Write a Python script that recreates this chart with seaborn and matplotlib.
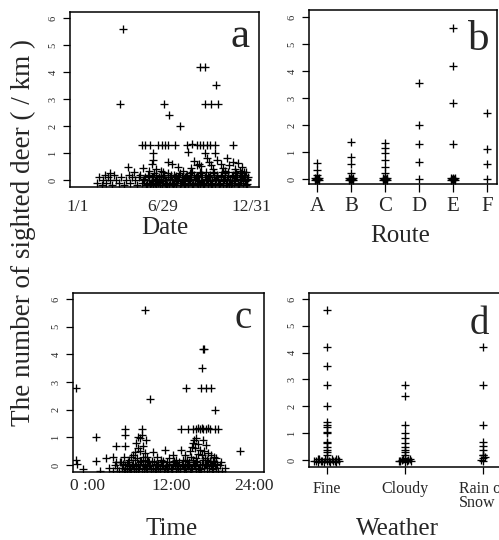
import matplotlib
matplotlib.use("Agg")
import matplotlib.pyplot as plt
import seaborn as sns
import pandas as pd

sns.set_theme(style="white")
plt.rcParams['font.family'] = ['Liberation Serif', 'DejaVu Serif']

# ---------------- data ----------------
# panel a: day of year vs deer/km
a_high = [(97, 5.6), (91, 2.8), (182, 2.8), (193, 2.4), (216, 2.0), (257, 4.2), (267, 4.2),
          (290, 3.5), (268, 2.8), (280, 2.8), (295, 2.8)]
a_row = [(136, 1.3), (143, 1.3), (153, 1.3), (170, 1.3), (178, 1.3), (184, 1.3), (191, 1.3),
         (205, 1.3), (230, 1.3), (240, 1.35), (250, 1.3), (257, 1.3), (263, 1.3), (272, 1.3),
         (278, 1.3), (288, 1.3), (326, 1.3)]
a_mid = [(159, 1.0), (159, 0.74), (157, 0.6), (190, 0.67), (199, 0.6), (211, 0.48), (232, 1.04),
         (267, 1.0), (271, 0.81), (288, 1.0), (292, 0.74), (313, 0.81), (326, 0.67), (336, 0.63),
         (344, 0.48), (107, 0.48), (138, 0.44), (70, 0.26), (175, 0.35), (180, 0.3), (245, 0.7),
         (250, 0.55), (255, 0.6), (260, 0.5), (275, 0.65), (280, 0.55), (300, 0.6), (305, 0.45),
         (318, 0.55), (330, 0.4), (340, 0.35), (349, 0.3), (353, 0.3), (120, 0.3), (150, 0.35),
         (166, 0.4), (222, 0.35), (238, 0.45), (284, 0.4), (310, 0.35)]
a_band = [(43, -0.1), (47, 0.1), (52, -0.2), (55, 0.0), (58, 0.2), (62, -0.1), (66, 0.1), (70, 0.0),
          (74, -0.2), (78, 0.2), (82, 0.0), (88, -0.1), (93, 0.1), (99, -0.2), (103, 0.0), (108, 0.2),
          (112, -0.1), (116, 0.1), (121, 0.0), (125, -0.2), (129, 0.1), (132, 0.2), (136, -0.1),
          (139, 0.0), (142, 0.1), (145, -0.2), (148, 0.2), (151, 0.0), (154, -0.1), (157, 0.1),
          (160, -0.2), (163, 0.0), (166, 0.2), (169, -0.1), (172, 0.1), (175, 0.0), (178, -0.2),
          (181, 0.2), (184, -0.1), (187, 0.0), (190, 0.1), (193, -0.2), (196, 0.2), (199, 0.0),
          (202, -0.1), (205, 0.1), (208, -0.2), (211, 0.0), (214, 0.2), (217, -0.1), (220, 0.1),
          (223, 0.0), (226, -0.2), (229, 0.2), (232, -0.1), (235, 0.0), (238, 0.1), (241, -0.2),
          (244, 0.2), (247, 0.0), (250, -0.1), (253, 0.1), (256, -0.2), (259, 0.0), (262, 0.2),
          (265, -0.1), (268, 0.1), (271, 0.0), (274, -0.2), (277, 0.2), (280, -0.1), (283, 0.0),
          (286, 0.1), (289, -0.2), (292, 0.2), (295, 0.0), (298, -0.1), (301, 0.1), (304, -0.2),
          (307, 0.0), (310, 0.2), (313, -0.1), (316, 0.1), (319, 0.0), (322, -0.2), (325, 0.2),
          (328, -0.1), (331, 0.0), (334, 0.1), (337, -0.2), (340, 0.2), (343, 0.0), (346, -0.1),
          (349, 0.1), (352, -0.2), (355, 0.0), (357, 0.1),
          (141, 0.05), (146, -0.15), (150, 0.15), (156, -0.05), (161, 0.25), (165, -0.15),
          (171, 0.05), (176, 0.15), (180, -0.05), (186, -0.15), (191, 0.25), (195, 0.05),
          (201, -0.15), (206, 0.15), (210, -0.05), (215, 0.25), (219, 0.05), (224, -0.15),
          (228, 0.15), (233, -0.05), (237, 0.25), (242, -0.15), (246, 0.05), (251, 0.15),
          (255, -0.05), (260, 0.25), (264, -0.15), (269, 0.05), (273, 0.15), (278, -0.05),
          (282, -0.15), (287, 0.25), (291, 0.05), (296, -0.15), (300, 0.15), (305, -0.05),
          (309, 0.25), (314, 0.05), (318, -0.15), (323, 0.15), (327, -0.05), (332, 0.25),
          (336, -0.15), (341, 0.05), (345, 0.15), (350, -0.05), (354, 0.05),
          (152, -0.2), (158, 0.1), (164, -0.1), (168, 0.05), (174, -0.2), (179, 0.1), (183, 0.0),
          (189, -0.2), (194, 0.1), (198, -0.1), (203, 0.2), (207, -0.05), (212, 0.1), (216, -0.2),
          (221, 0.0), (225, 0.1), (231, -0.2), (236, 0.05), (240, 0.3), (243, -0.1), (248, 0.1),
          (252, -0.2), (257, 0.3), (261, 0.0), (266, -0.2), (270, 0.3), (275, 0.1), (279, -0.2),
          (285, 0.3), (288, 0.0), (293, 0.1), (297, -0.2), (302, 0.3), (306, 0.05), (311, -0.2),
          (315, 0.3), (320, 0.0), (324, -0.1), (329, 0.3), (333, 0.1), (338, -0.2), (342, 0.25),
          (347, 0.0), (351, 0.2), (356, -0.15)]
a_ticks = [1, 180, 365]
a_ticklabels = ["1/1", "6/29", "12/31"]

# panel b: route vs deer/km
routes = ["A", "B", "C", "D", "E", "F"]
b_route = ["A", "A", "A", "B", "B", "B", "B", "C", "C", "C", "C", "C", "C",
           "D", "D", "D", "D", "D", "E", "E", "E", "E", "F", "F", "F", "F"]
b_val = [0.59, 0.33, 0.15, 1.37, 0.81, 0.55, 0.22, 1.33, 1.15, 0.96, 0.7, 0.44, 0.22,
         3.55, 2.0, 1.3, 0.63, 0.0, 5.6, 4.2, 2.8, 1.3, 2.44, 1.1, 0.55, 0.0]
b_zero_routes = ["A", "B", "C", "E"]
b_zero_jitter = [(-0.05, -0.05), (0.0, -0.05), (0.05, -0.05), (-0.05, 0.05), (0.0, 0.05),
                 (0.05, 0.05), (-0.03, 0.0), (0.03, 0.0)]

# panel c: time of day (hours) vs deer/km
c_high = [(8.3, 5.6), (16.7, 4.2), (16.8, 4.2), (16.5, 3.5), (-1.7, 2.8), (14.2, 2.8), (16.4, 2.8),
          (17.1, 2.8), (17.8, 2.8), (9.0, 2.4), (18.4, 2.0)]
c_row = [(5.4, 1.3), (7.8, 1.3), (13.5, 1.3), (14.5, 1.3), (15.2, 1.3), (15.7, 1.3), (16.0, 1.35),
         (16.2, 1.3), (16.5, 1.35), (16.7, 1.3), (17.1, 1.3), (17.4, 1.35), (17.7, 1.3), (18.4, 1.3),
         (18.8, 1.3)]
c_mid = [(5.4, 1.1), (7.8, 1.1), (1.2, 1.0), (4.1, 0.7), (5.4, 0.7), (22.0, 0.5), (7.5, 0.98),
         (6.8, 0.47), (9.4, 0.47), (11.2, 0.54), (12.3, 0.36), (13.5, 0.54), (15.2, 0.8), (15.7, 0.98),
         (17.1, 0.72), (18.6, 0.25), (19.3, 0.11), (2.6, 0.25), (3.6, 0.29), (4.1, 0.11), (1.2, 0.15),
         (-1.7, 0.2), (-1.6, 0.05), (-0.7, -0.15), (1.7, -0.2), (3.0, -0.1), (7.0, 0.8), (7.3, 0.6),
         (8.0, 0.7), (7.6, 0.5), (8.2, 0.45), (6.5, 0.35), (8.6, 0.3), (10.0, 0.3), (10.6, 0.2),
         (11.8, 0.25), (12.8, 0.2), (14.0, 0.35), (14.8, 0.5), (15.0, 0.65), (15.5, 0.6), (16.0, 0.75),
         (16.3, 0.55), (16.8, 0.5), (17.4, 0.45), (17.8, 0.35), (18.2, 0.3), (14.3, 0.2), (15.9, 0.4),
         (16.6, 0.9), (6.0, 0.2), (5.2, 0.3), (4.6, 0.1), (7.2, 1.0), (8.4, 0.9), (15.4, 0.9)]
c_band = [(3.6, -0.2), (3.9, 0.0), (4.2, -0.1), (4.5, -0.2), (4.8, 0.1), (5.0, -0.1), (5.2, -0.2),
          (5.4, 0.0), (5.6, -0.2), (5.8, 0.1), (6.0, -0.1), (6.2, -0.2), (6.4, 0.0), (6.6, -0.1),
          (6.8, 0.2), (7.0, -0.2), (7.2, 0.0), (7.4, -0.1), (7.6, 0.1), (7.8, -0.2), (8.0, 0.0),
          (8.2, 0.2), (8.4, -0.1), (8.6, -0.2), (8.8, 0.1), (9.0, 0.0), (9.2, -0.2), (9.4, -0.1),
          (9.6, 0.1), (9.8, -0.2), (10.0, 0.0), (10.2, -0.1), (10.4, -0.2), (10.6, 0.1), (10.8, 0.0),
          (11.0, -0.2), (11.2, -0.1), (11.4, 0.1), (11.6, -0.2), (11.8, 0.0), (12.0, -0.1),
          (12.2, -0.2), (12.4, 0.1), (12.6, 0.0), (12.8, -0.2), (13.0, -0.1), (13.2, 0.1),
          (13.4, -0.2), (13.6, 0.0), (13.8, 0.2), (14.0, -0.1), (14.2, -0.2), (14.4, 0.0),
          (14.6, 0.1), (14.8, -0.2), (15.0, -0.1), (15.2, 0.2), (15.4, 0.0), (15.6, -0.2),
          (15.8, 0.1), (16.0, -0.1), (16.2, 0.0), (16.4, -0.2), (16.6, 0.2), (16.8, -0.1),
          (17.0, 0.0), (17.2, -0.2), (17.4, 0.1), (17.6, -0.1), (17.8, 0.0), (18.0, -0.2),
          (18.2, 0.1), (18.5, -0.1), (18.8, -0.2), (19.1, 0.0), (19.4, -0.2), (19.8, -0.1),
          (5.1, 0.05), (5.9, -0.05), (6.7, -0.15), (7.5, 0.05), (8.3, -0.05), (9.1, -0.15),
          (9.9, 0.05), (10.7, -0.05), (11.5, -0.15), (12.3, 0.05), (13.1, -0.05), (13.9, -0.15),
          (14.7, 0.05), (15.5, -0.05), (16.3, -0.15), (17.1, 0.05), (17.9, -0.05), (18.7, 0.05),
          (6.3, 0.3), (7.1, 0.25), (7.9, 0.3), (8.7, 0.15), (14.9, 0.3), (15.7, 0.25), (16.5, 0.35),
          (17.3, 0.2), (18.1, 0.15),
          (5.3, -0.15), (5.7, 0.05), (6.1, -0.15), (6.5, 0.05), (6.9, -0.05), (7.3, -0.15),
          (7.7, 0.15), (8.1, -0.15), (8.5, 0.05), (8.9, -0.05), (9.3, 0.15), (9.7, -0.15),
          (10.1, 0.05), (10.5, -0.15), (10.9, 0.15), (11.3, -0.05), (11.7, 0.05), (12.1, -0.15),
          (12.5, 0.15), (12.9, -0.05), (13.3, -0.15), (13.7, 0.05), (14.1, 0.15), (14.5, -0.05),
          (14.9, -0.15), (15.3, 0.05), (15.7, 0.15), (16.1, -0.15), (16.5, 0.05), (16.9, 0.25),
          (17.3, -0.05), (17.7, 0.15), (18.1, -0.15), (18.4, 0.05)]
c_ticks = [0, 12, 24]
c_ticklabels = ["0 :00", "12:00", "24:00"]

# panel d: weather vs deer/km
weathers = ["Fine", "Cloudy", "Rain or\nSnow"]
d_weather = ["Fine"] * 16 + ["Cloudy"] * 10 + ["Rain or\nSnow"] * 8
d_val = [5.6, 4.2, 3.5, 2.8, 2.0, 1.42, 1.3, 1.23, 1.04, 1.0, 0.67, 0.63, 0.49, 0.37, 0.3, 0.19,
         2.8, 2.4, 1.3, 1.0, 0.82, 0.63, 0.49, 0.37, 0.3, 0.19,
         4.2, 2.8, 1.3, 0.67, 0.52, 0.37, 0.19, 0.07]
d_zero_fine = [(-0.14, -0.05), (-0.1, 0.02), (-0.06, -0.05), (-0.02, 0.02), (0.02, -0.05),
               (0.06, 0.02), (0.1, -0.05), (0.14, 0.02), (-0.12, -0.08), (0.12, -0.08),
               (-0.04, -0.08), (0.04, -0.08), (-0.16, -0.02), (-0.08, -0.02), (0.0, -0.02),
               (0.08, -0.02), (0.16, -0.02), (-0.12, 0.05), (0.0, 0.05), (0.12, 0.05)]
d_zero_cloudy = [(-0.06, -0.05), (-0.02, 0.02), (0.02, -0.05), (0.06, 0.02), (0.0, -0.08),
                 (0.0, 0.06), (-0.04, 0.0), (0.04, 0.0), (-0.08, -0.03), (0.08, -0.03)]
d_zero_rain = [(-0.02, 0.0), (0.02, 0.12), (0.0, -0.05), (0.0, 0.2)]

# ---------------- drawing ----------------
W, H = 499, 540
fig = plt.figure(figsize=(W / 100, H / 100), dpi=100)
fig.patch.set_facecolor("white")

mk = dict(marker="+", color="black", s=36, linewidth=0.95, legend=False)


def style(ax, ylim):
    ax.set_facecolor("white")
    for sp in ax.spines.values():
        sp.set_visible(True)
        sp.set_color("black")
        sp.set_linewidth(1.1)
    ax.set_ylim(*ylim)
    ax.set_yticks(range(7))
    ax.set_yticklabels([str(i) for i in range(7)], fontsize=7.5)
    for lab in ax.get_yticklabels():
        lab.set_rotation(90)
        lab.set_va("center")
    ax.tick_params(axis="y", left=True, length=5, width=0.9, pad=4, color="black")
    ax.set_xlabel("")
    ax.set_ylabel("")


def rect(l, t, r, b):
    return [l / W, 1 - b / H, (r - l) / W, (b - t) / H]


# panel a
ax_a = fig.add_axes(rect(70, 12, 259, 187))
pts_a = a_band + a_mid + a_row + a_high
df_a = pd.DataFrame(pts_a, columns=["day", "val"])
sns.scatterplot(data=df_a, x="day", y="val", ax=ax_a, **mk)
style(ax_a, (-0.26, 6.22))
ax_a.set_xlim(-14, 380)
ax_a.set_xticks(a_ticks)
ax_a.set_xticklabels(a_ticklabels, fontsize=12.5)
ax_a.tick_params(axis="x", bottom=True, length=0, pad=8.5)

# panel b
ax_b = fig.add_axes(rect(309, 10, 497, 184))
pos_b = {r: i for i, r in enumerate(routes)}
bx = [pos_b[r] for r in b_route]
by = list(b_val)
for r in b_zero_routes:
    for dx, dy in b_zero_jitter:
        bx.append(pos_b[r] + dx)
        by.append(dy)
df_b = pd.DataFrame({"x": bx, "val": by})
sns.scatterplot(data=df_b, x="x", y="val", ax=ax_b, **mk)
style(ax_b, (-0.185, 6.26))
ax_b.set_xlim(-0.24, 5.29)
ax_b.set_xticks(range(len(routes)))
ax_b.set_xticklabels(routes, fontsize=15)
ax_b.tick_params(axis="x", bottom=True, length=5.5, width=0.9, pad=4, color="black")

# panel c
ax_c = fig.add_axes(rect(73, 293, 264, 472))
pts_c = c_band + c_mid + c_row + c_high
df_c = pd.DataFrame(pts_c, columns=["hour", "val"])
sns.scatterplot(data=df_c, x="hour", y="val", ax=ax_c, **mk)
style(ax_c, (-0.25, 6.22))
ax_c.set_xlim(-2.17, 25.5)
ax_c.set_xticks(c_ticks)
ax_c.set_xticklabels(c_ticklabels, fontsize=12.5)
ax_c.tick_params(axis="x", bottom=True, length=0, pad=4)

# panel d
ax_d = fig.add_axes(rect(309, 293, 501, 467))
pos_d = {w: i for i, w in enumerate(weathers)}
dx_ = [pos_d[w] for w in d_weather]
dy_ = list(d_val)
for w, jit in zip(weathers, [d_zero_fine, d_zero_cloudy, d_zero_rain]):
    for ox, oy in jit:
        dx_.append(pos_d[w] + ox)
        dy_.append(oy)
df_d = pd.DataFrame({"x": dx_, "val": dy_})
sns.scatterplot(data=df_d, x="x", y="val", ax=ax_d, **mk)
style(ax_d, (-0.26, 6.22))
ax_d.set_xlim(-0.23, 2.23)
ax_d.set_xticks(range(len(weathers)))
ax_d.set_xticklabels(weathers, fontsize=11.5, linespacing=0.85)
for lab in ax_d.get_xticklabels():
    lab.set_multialignment("left")
    lab.set_va("top")
ax_d.tick_params(axis="x", bottom=True, length=5, width=0.9, pad=5, color="black")


# panel letters and labels
def ftext(x, y, s, **kw):
    fig.text(x / W, 1 - y / H, s, **kw)


ftext(249, 47, "a", fontsize=31, ha="right", va="baseline")
ftext(489, 50, "b", fontsize=31, ha="right", va="baseline")
ftext(252, 328, "c", fontsize=28, ha="right", va="baseline")
ftext(489, 334, "d", fontsize=28, ha="right", va="baseline")

ftext(165, 234, "Date", fontsize=18, ha="center", va="baseline")
ftext(400, 242, "Route", fontsize=18, ha="center", va="baseline")
ftext(172, 535, "Time", fontsize=18, ha="center", va="baseline")
ftext(397, 535, "Weather", fontsize=18, ha="center", va="baseline")
ftext(23, 232, "The number of sighted deer ( / km )", fontsize=19.5, rotation=90,
      ha="center", va="center")

fig.savefig("out.png", dpi=100, facecolor="white")
